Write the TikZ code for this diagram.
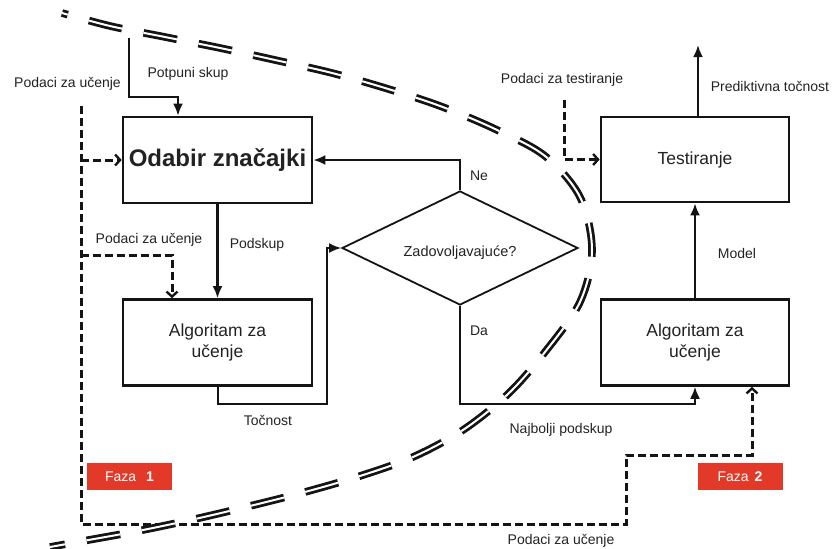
\documentclass[tikz,border=0pt]{standalone}
\usepackage{fontspec}
\setmainfont{Liberation Sans}
\usetikzlibrary{arrows.meta,shapes.geometric}
\definecolor{ln}{HTML}{141414}
\definecolor{tx}{HTML}{222222}
\definecolor{fred}{RGB}{226,57,41}
\begin{document}
\begin{tikzpicture}[x=1pt,y=-1pt,
  box/.style={draw=ln, line width=2.6pt, minimum width=189pt, minimum height=86pt, inner sep=0pt, align=center, text=tx, font=\fontsize{17.5}{21.5}\selectfont},
  lbl/.style={text=tx, font=\fontsize{14}{16}\selectfont, inner sep=0pt},
  arr/.style={draw=ln, line width=2.4pt, -{Latex[length=12pt,width=10pt]}},
  thinarr/.style={draw=ln, line width=2pt, -{Latex[length=12pt,width=10pt]}},
  darr/.style={draw=ln, line width=3pt, dash pattern=on 8pt off 4pt, -{Straight Barb[length=5pt,width=11pt,line width=2.4pt]}},
  faza/.style={fill=fred, minimum width=85pt, minimum height=27pt, inner sep=0pt, text=white, font=\fontsize{14}{16}\selectfont},
  sep/.style={draw=ln, line width=2.8pt, double=white, double distance=2pt, dash pattern=on 34pt off 22pt, dash phase=28pt}
]
\useasboundingbox (0,0) rectangle (833,549);

% boxes
\node[box, font=\bfseries\fontsize{24}{28}\selectfont] (odabir) at (217.5,160) {Odabir značajki};
\node[box] (alg1) at (217.5,342.5) {Algoritam za\\učenje};
\node[box, minimum width=188pt, minimum height=85pt] (test) at (695,159.5) {Testiranje};
\node[box, minimum width=188pt] (alg2) at (695,342.5) {Algoritam za\\učenje};
\node[diamond, draw=ln, line width=1.8pt, minimum width=236pt, minimum height=114pt, inner sep=0pt, aspect=2.07] (dia) at (460,248) {};
\node[lbl, font=\fontsize{14.5}{17}\selectfont] (diatext) at (460,253) {Zadovoljavajuće?};

% faza boxes
\node[faza] (f1) at (129.5,476.5) {Faza\hspace{10pt}\textbf{1}};
\node[faza] (f2) at (740,476.5) {Faza\hspace{6pt}\textbf{2}};

% coordinates
\coordinate (ps) at (129,38);
\coordinate (pbend) at (178,97);
\coordinate (lt) at (81,106);
\coordinate (b1) at (81,524);
\coordinate (b2) at (626,524);
\coordinate (b3) at (626,455);
\coordinate (b4) at (752,455);
\coordinate (c1) at (172,255);
\coordinate (t1) at (327,404);
\coordinate (d1) at (460,404);
\coordinate (pt) at (698,45);
\coordinate (tt) at (564,100);

% connectors
\draw[arr] (ps) |- (pbend) -- (pbend |- odabir.north);
\draw[darr] (lt) -- (b1) -- (b2) -- (b3) -- (b4) -- (b4 |- alg2.south);
\draw[darr] (lt |- odabir.west) -- (odabir.west);
\draw[darr] (lt |- c1) -- (c1) -- (c1 |- alg1.north);
\draw[arr] (odabir.south) -- (alg1.north);
\draw[thinarr] (alg1.south) |- (t1) |- (dia.west);
\draw[arr] (dia.north) |- (odabir.east);
\draw[thinarr] (dia.south) -- (d1) -- (d1 -| alg2.south) -- (alg2.south);
\draw[arr] (alg2.north) -- (test.south);
\draw[arr] (test.north -| pt) -- (pt);
\draw[darr] (tt) |- (test.west);

% labels
\node[lbl] (l1) at (67.5,84) {Podaci za učenje};
\node[lbl] (l2) at (188,74) {Potpuni skup};
\node[lbl] (l3) at (149,240) {Podaci za učenje};
\node[lbl] (l4) at (257,245) {Podskup};
\node[lbl] (l5) at (268,420) {Točnost};
\node[lbl] (l6) at (479,176) {Ne};
\node[lbl] (l7) at (479,331) {Da};
\node[lbl] (l8) at (561,430) {Najbolji podskup};
\node[lbl] (l9) at (737,253) {Model};
\node[lbl] (l10) at (770,86) {Prediktivna točnost};
\node[lbl] (l11) at (562,80) {Podaci za testiranje};
\node[lbl] (l12) at (561,541) {Podaci za učenje};

% phase separator
\draw[sep] plot[smooth, tension=0.55] coordinates {(62,13) (110,26) (165,37) (220,48) (275,60) (332,73) (385,88) (440,106) (495,129) (545,156) (580,197) (592,250) (580,302) (545,352) (508,394) (463,430) (413,457) (360,476) (305,492) (250,506) (195,519) (138,531) (83,541) (50,547)};
\end{tikzpicture}
\end{document}
